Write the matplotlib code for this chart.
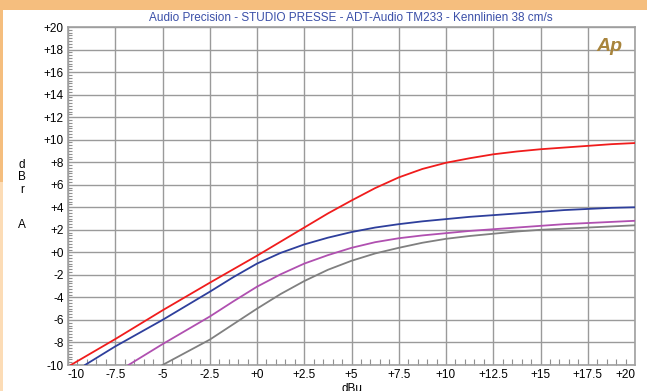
import matplotlib
matplotlib.use("Agg")
import matplotlib.pyplot as plt
from matplotlib.patches import Rectangle
from matplotlib.ticker import MultipleLocator

plt.rcParams['font.family'] = ['Liberation Sans', 'DejaVu Sans']

# Kennlinien (dBu -> dBr A)
red_x = [-9.85, -7.5, -5, -2.5, 0, 1.25, 2.5, 3.75, 5, 6.25, 7.5, 8.75, 10,
         11.25, 12.5, 13.75, 15, 16.25, 17.5, 18.75, 20]
red_y = [-10, -7.7, -5.15, -2.7, -0.3, 0.95, 2.2, 3.45, 4.6, 5.7, 6.65, 7.4, 7.95,
         8.35, 8.7, 8.95, 9.15, 9.3, 9.45, 9.6, 9.7]

blue_x = [-9.1, -7.5, -5, -2.5, -1.25, 0, 1.25, 2.5, 3.75, 5, 6.25, 7.5, 8.75, 10,
          11.25, 12.5, 13.75, 15, 16.25, 17.5, 18.75, 20]
blue_y = [-10, -8.35, -6.0, -3.5, -2.2, -1.0, -0.05, 0.7, 1.3, 1.8, 2.2, 2.5, 2.75, 2.95,
          3.15, 3.3, 3.45, 3.6, 3.75, 3.85, 3.95, 4.0]

mag_x = [-6.8, -5, -2.5, -1.25, 0, 1.25, 2.5, 3.75, 5, 6.25, 7.5, 8.75, 10,
         11.25, 12.5, 13.75, 15, 16.25, 17.5, 18.75, 20]
mag_y = [-10, -8.15, -5.7, -4.35, -3.05, -1.95, -1.0, -0.25, 0.4, 0.9, 1.25, 1.5, 1.7,
         1.9, 2.05, 2.2, 2.35, 2.5, 2.6, 2.7, 2.8]

grey_x = [-5, -2.5, 0, 1.25, 2.5, 3.75, 5, 6.25, 7.5, 8.75, 10,
          11.25, 12.5, 13.75, 15, 16.25, 17.5, 18.75, 20]
grey_y = [-10, -7.75, -5.0, -3.7, -2.55, -1.55, -0.75, -0.1, 0.4, 0.85, 1.2,
          1.45, 1.65, 1.85, 2.0, 2.1, 2.2, 2.3, 2.4]

x_ticks = [-10, -7.5, -5, -2.5, 0, 2.5, 5, 7.5, 10, 12.5, 15, 17.5, 20]
x_labels = ['-10', '-7.5', '-5', '-2.5', '+0', '+2.5', '+5', '+7.5', '+10',
            '+12.5', '+15', '+17.5', '+20']
y_ticks = list(range(-10, 21, 2))
y_labels = [('+%d' % v) if v >= 0 else str(v) for v in y_ticks]

title = 'Audio Precision - STUDIO PRESSE - ADT-Audio TM233 - Kennlinien 38 cm/s'

W, H = 647, 391
fig = plt.figure(figsize=(W / 100, H / 100), dpi=100)
fig.patch.set_facecolor('white')

# orange Rahmen
fig.patches.append(Rectangle((0, 1 - 10 / H), 1, 10 / H, transform=fig.transFigure,
                             facecolor='#f5be7e', edgecolor='none', zorder=-5))
fig.patches.append(Rectangle((0, 1 - 182 / H), 3 / W, 172 / H, transform=fig.transFigure,
                             facecolor='#f5be7e', edgecolor='none', zorder=-5))
fig.patches.append(Rectangle((0, 0), 3 / W, 1 - 182 / H, transform=fig.transFigure,
                             facecolor='#fcdcb6', edgecolor='none', zorder=-5))

ax = fig.add_axes([68 / W, 1 - 365 / H, 567 / W, 338 / H])

ax.plot(grey_x, grey_y, color='#808080', lw=1.3, zorder=3)
ax.plot(mag_x, mag_y, color='#b050b0', lw=1.3, zorder=3)
ax.plot(blue_x, blue_y, color='#2e3f9c', lw=1.3, zorder=3)
ax.plot(red_x, red_y, color='#f01c1c', lw=1.3, zorder=3)

ax.set_xlim(-10, 20)
ax.set_ylim(-10, 20)
ax.set_xticks(x_ticks)
ax.set_xticklabels(x_labels)
ax.set_yticks(y_ticks)
ax.set_yticklabels(y_labels)
ax.xaxis.set_minor_locator(MultipleLocator(0.5))
ax.yaxis.set_minor_locator(MultipleLocator(0.25))
ax.grid(True, which='major', color='#9a9a9a', lw=1.0)
ax.tick_params(which='major', length=0, labelsize=8.5, pad=3, colors='black')
ax.tick_params(axis='x', which='major', pad=3)
ax.tick_params(which='minor', direction='in', length=3, color='#909090', width=0.8)
ax.tick_params(axis='x', which='minor', bottom=True, length=4)
for s in ax.spines.values():
    s.set_color('#a0a0a0')
    s.set_linewidth(1.2)
for t in ax.get_xticklabels() + ax.get_yticklabels():
    t.set_fontweight('medium')
# Randbeschriftungen nach innen ziehen
xl = ax.get_xticklabels()
xl[0].set_ha('left')
xl[-1].set_ha('right')

fig.text(351 / W, 1 - 18 / H, title, color='#3a4fa8', fontsize=8.5,
         ha='center', va='center')

for ch, yy in [('d', 165), ('B', 177), ('r', 190), ('A', 225)]:
    fig.text(22 / W, 1 - yy / H, ch, fontsize=8.5, ha='center', va='center')

# Achsentitel unten, im Original angeschnitten
fig.text(352 / W, 1 - 383 / H, 'dBu', fontsize=8.5, ha='center', va='top')

# AP Logo
ax.text(0.978, 0.968, 'Ap', transform=ax.transAxes, ha='right', va='top',
        fontsize=14, fontstyle='italic', fontweight='bold', color='#a8843c')

fig.savefig('out.png', dpi=100)
